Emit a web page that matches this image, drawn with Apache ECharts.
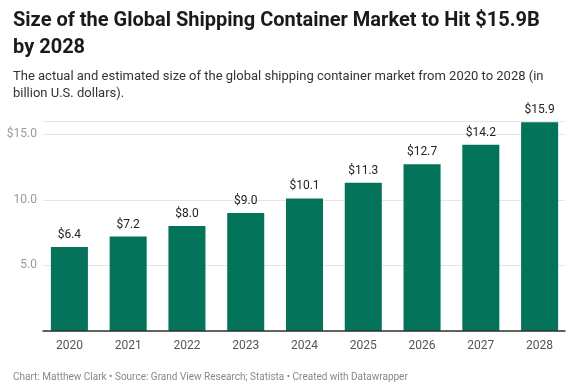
<!DOCTYPE html>
<html><head><meta charset="utf-8">
<script src="https://cdn.jsdelivr.net/npm/echarts@6/dist/echarts.min.js"></script>
<style>html,body{margin:0;padding:0;background:#fff}#c{width:575px;height:390px}</style>
</head><body><div id="c"></div>
<script>
const years = ['2020','2021','2022','2023','2024','2025','2026','2027','2028'];
const marketSize = [6.4, 7.2, 8.0, 9.0, 10.1, 11.3, 12.7, 14.2, 15.9];
const titleText = 'Size of the Global Shipping Container Market to Hit $15.9B\nby 2028';
const subtitleText = 'The actual and estimated size of the global shipping container market from 2020 to 2028 (in\nbillion U.S. dollars).';
const footerText = 'Chart: Matthew Clark \u2022 Source: Grand View Research; Statista \u2022 Created with Datawrapper';

const chart = echarts.init(document.getElementById('c'));
chart.setOption({
  animation: false,
  textStyle: { fontFamily: 'Roboto' },
  title: [
    { text: titleText, left: 8, top: 2,
      textStyle: { fontFamily: 'Roboto', fontSize: 20, fontWeight: 'bold', color: '#1a1a1a', lineHeight: 27 } },
    { text: subtitleText, left: 8, top: 63,
      textStyle: { fontFamily: 'Roboto', fontSize: 13, fontWeight: 'normal', color: '#333', lineHeight: 17 } },
    { text: footerText, left: 8, top: 367,
      textStyle: { fontFamily: 'Roboto', fontSize: 10, fontWeight: 'normal', color: '#888' } }
  ],
  grid: [
    { left: 40, right: 6, top: 121, bottom: 59 },
    { left: 43, right: 10, top: 121, bottom: 59 }
  ],
  xAxis: [{
    type: 'category', data: years, gridIndex: 0,
    axisLine: { show: false },
    axisTick: { show: false },
    axisLabel: { color: '#555', fontSize: 12, margin: 9 }
  }, {
    type: 'value', gridIndex: 1, min: 0, max: 1, z: 5,
    axisLine: { show: true, lineStyle: { color: '#333', width: 1.5 } },
    axisTick: { show: false }, axisLabel: { show: false }, splitLine: { show: false }
  }],
  yAxis: [{
    type: 'value', gridIndex: 0, min: 0, max: 16, interval: 5, show: false,
    splitLine: { show: false }
  }, {
    type: 'value', gridIndex: 1, min: 0, max: 16, interval: 5,
    axisLine: { show: false }, axisTick: { show: false },
    axisLabel: { color: '#999', fontSize: 12, margin: 6, showMinLabel: false, showMaxLabel: false,
      formatter: v => v === 15 ? '$15.0' : v.toFixed(1) },
    splitLine: { lineStyle: { color: '#e5e5e5' } }
  }],
  series: [{
    type: 'bar', data: marketSize, barCategoryGap: '37%', xAxisIndex: 0, yAxisIndex: 0,
    itemStyle: { color: '#03735a' },
    label: { show: true, position: 'top', distance: 6, color: '#222', fontSize: 12,
      formatter: p => '$' + p.value.toFixed(1) }
  }]
});
</script></body></html>
